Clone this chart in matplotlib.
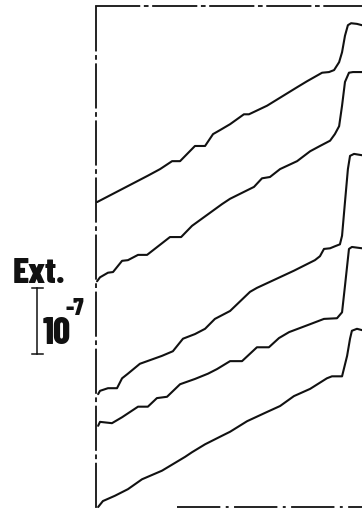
import matplotlib
matplotlib.use("Agg")
import matplotlib.pyplot as plt
import matplotlib.transforms as mtransforms

# Extinction traces (units of 1e-7) versus time (arbitrary units, 0-100)
t1 = [0.4, 19.5, 24.1, 28.6, 31.6, 37.2, 41.0, 44.0, 46.6, 50.4, 55.6, 57.5, 64.3,
      75.6, 79.3, 85.0, 87.6, 89.5, 91.4, 92.5, 93.6, 94.7, 95.9, 98.1, 100.0]
e1 = [4.62, 5.02, 5.12, 5.24, 5.24, 5.47, 5.47, 5.65, 5.71, 5.80, 5.95, 5.95, 6.08,
      6.36, 6.45, 6.58, 6.59, 6.62, 6.74, 6.89, 7.14, 7.30, 7.33, 7.32, 7.30]

t2 = [0.4, 1.5, 4.5, 6.4, 9.8, 12.0, 15.8, 19.2, 27.8, 32.0, 36.1, 47.4, 50.4, 59.4,
      62.4, 65.4, 69.2, 75.6, 80.5, 84.2, 88.0, 89.8, 91.4, 92.5, 93.6, 95.1, 96.6, 100.0]
e2 = [3.42, 3.48, 3.55, 3.56, 3.73, 3.74, 3.82, 3.82, 4.09, 4.09, 4.26, 4.59, 4.67, 4.85,
      4.98, 5.00, 5.12, 5.24, 5.39, 5.47, 5.55, 5.65, 5.77, 6.08, 6.44, 6.58, 6.59, 6.59]

t3 = [0.8, 1.5, 4.5, 7.9, 9.8, 12.0, 16.5, 24.8, 28.9, 32.7, 37.2, 41.0, 44.7, 50.4,
      57.9, 60.5, 74.4, 82.3, 84.2, 85.7, 88.0, 89.8, 91.7, 92.5, 93.6, 94.7, 95.5, 97.0, 100.0]
e3 = [1.71, 1.76, 1.80, 1.80, 1.95, 2.02, 2.17, 2.29, 2.36, 2.55, 2.62, 2.70, 2.85, 2.97,
      3.26, 3.32, 3.58, 3.74, 3.80, 3.91, 3.92, 3.95, 3.98, 4.11, 4.62, 5.12, 5.32, 5.35, 5.33]

t4 = [0.8, 1.5, 6.0, 9.8, 15.8, 19.5, 22.9, 26.7, 31.6, 37.2, 42.1, 45.5, 50.4, 54.9,
      60.5, 65.0, 68.8, 72.6, 80.5, 85.7, 90.6, 92.5, 93.6, 95.1, 96.2, 100.0]
e4 = [1.23, 1.29, 1.27, 1.36, 1.52, 1.52, 1.65, 1.67, 1.86, 1.94, 2.02, 2.09, 2.21, 2.21,
      2.42, 2.42, 2.56, 2.65, 2.77, 2.85, 2.86, 2.95, 3.35, 3.91, 3.94, 3.92]

t5 = [0.8, 2.6, 7.1, 12.0, 17.3, 24.8, 33.5, 36.1, 41.0, 47.4, 50.4, 56.8, 64.3, 69.2,
      74.4, 80.5, 86.8, 88.7, 92.5, 94.4, 95.5, 96.2, 98.1, 100.0]
e5 = [0.00, 0.09, 0.17, 0.27, 0.42, 0.55, 0.76, 0.83, 0.95, 1.08, 1.14, 1.30, 1.44, 1.53,
      1.68, 1.79, 1.95, 1.98, 1.98, 2.29, 2.55, 2.67, 2.70, 2.68]

traces = [(t1, e1), (t2, e2), (t3, e3), (t4, e4), (t5, e5)]

# scale bar: one unit of extinction = 10^-7
scale_bottom = 2.32
scale_length = 1.0

W, H = 362, 510
fig = plt.figure(figsize=(W / 100, H / 100), dpi=100)
fig.patch.set_facecolor("white")

ax = fig.add_axes([96 / W, 2 / H, 266 / W, 501 / H])
ax.set_xlim(0, 100)
ax.set_ylim(0, 501 / 66)
ax.set_xticks([])
ax.set_yticks([])

for t, e in traces:
    ax.plot(t, e, color="#111111", lw=1.5, solid_joinstyle="round",
            solid_capstyle="round", clip_on=False)

# dash-dot frame
dashdot = (0, (24, 3, 1.6, 3))
for side in ("left", "top"):
    ax.spines[side].set_linestyle(dashdot)
    ax.spines[side].set_linewidth(1.3)
    ax.spines[side].set_color("#111111")
ax.spines["right"].set_visible(False)
ax.spines["bottom"].set_visible(False)
ax.plot([(177 - 96) / 266, 1.0], [0, 0], transform=ax.transAxes, color="#111111",
        lw=1.3, linestyle=dashdot, clip_on=False)

# scale bar in data units, placed left of the axes
bt = mtransforms.blended_transform_factory(fig.transFigure, ax.transData)
xb = 37 / W
ax.plot([xb, xb], [scale_bottom, scale_bottom + scale_length], transform=bt,
        color="#111111", lw=1.1, clip_on=False)
for yv in (scale_bottom, scale_bottom + scale_length):
    ax.plot([32 / W, 43 / W], [yv, yv], transform=bt, color="#111111", lw=1.1,
            clip_on=False)

font = ["Barlow Condensed", "DejaVu Sans"]
fig.text(13 / W, 1 - 283 / H, "Ext.", fontsize=26.5, fontweight=800,
         family=font, color="#111111", ha="left", va="baseline")
fig.text(43 / W, 1 - 344 / H, "10", fontsize=27, fontweight=800,
         family=font, color="#111111", ha="left", va="baseline")
fig.text(65 / W, 1 - 315 / H, "-7", fontsize=17.5, fontweight=800,
         family=font, color="#111111", ha="left", va="baseline")

fig.savefig("out.png", dpi=100, facecolor="white")
